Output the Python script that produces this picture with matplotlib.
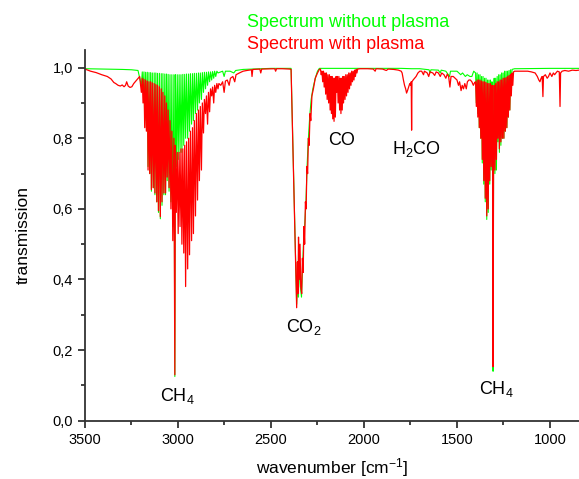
import numpy as np
import matplotlib
matplotlib.use("Agg")
import matplotlib.pyplot as plt
from matplotlib.ticker import MultipleLocator, FuncFormatter

plt.rcParams["font.family"] = ["Liberation Sans", "DejaVu Sans"]
plt.rcParams["mathtext.fontset"] = "custom"
plt.rcParams["mathtext.rm"] = "Liberation Sans"
plt.rcParams["mathtext.default"] = "regular"

# (wavenumber, transmission), band by band

# --- spectrum with plasma (red) ---
red_start = [(3500, 0.996), (3470, 0.99), (3440, 0.986), (3410, 0.98), (3380, 0.975),
             (3360, 0.968), (3345, 0.958), (3335, 0.955), (3322, 0.95), (3310, 0.948),
             (3300, 0.951), (3290, 0.946), (3282, 0.95), (3276, 0.96), (3268, 0.948),
             (3258, 0.944), (3248, 0.946), (3238, 0.955), (3222, 0.965), (3206, 0.975)]

red_ch4_r = [(3197, 0.93), (3192, 0.97), (3188, 0.9), (3183, 0.967), (3179, 0.83),
             (3174, 0.965), (3170, 0.82), (3165, 0.962), (3161, 0.71), (3156, 0.96),
             (3152, 0.7), (3147, 0.96), (3143, 0.655), (3138, 0.957), (3133, 0.66),
             (3128, 0.955), (3124, 0.645), (3119, 0.952), (3114, 0.62), (3110, 0.95),
             (3105, 0.595), (3100, 0.946), (3095, 0.578), (3090, 0.94), (3086, 0.62),
             (3081, 0.93), (3076, 0.645), (3071, 0.92), (3067, 0.645), (3062, 0.9),
             (3058, 0.69), (3053, 0.88), (3048, 0.66), (3043, 0.85), (3038, 0.6),
             (3033, 0.82), (3028, 0.51), (3022, 0.8)]

red_ch4_q = [(3017, 0.13), (3014, 0.78)]

red_ch4_p = [(3009, 0.59), (3004, 0.76), (2999, 0.53), (2994, 0.76), (2989, 0.55),
             (2984, 0.77), (2979, 0.5), (2974, 0.77), (2969, 0.475), (2964, 0.78),
             (2959, 0.38), (2954, 0.79), (2948, 0.43), (2943, 0.8), (2938, 0.47),
             (2933, 0.82), (2927, 0.51), (2922, 0.83), (2917, 0.53), (2912, 0.85),
             (2906, 0.58), (2901, 0.87), (2895, 0.625), (2890, 0.88), (2885, 0.68),
             (2880, 0.89), (2874, 0.71), (2869, 0.9), (2863, 0.815), (2858, 0.91),
             (2852, 0.87), (2847, 0.92), (2841, 0.84), (2836, 0.93), (2830, 0.875),
             (2825, 0.94), (2819, 0.92), (2814, 0.945), (2808, 0.9), (2803, 0.95),
             (2797, 0.93), (2791, 0.955), (2785, 0.94)]

red_mid = [(2780, 0.955), (2770, 0.95), (2760, 0.96), (2752, 0.93), (2745, 0.962),
           (2735, 0.965), (2725, 0.95), (2718, 0.97), (2705, 0.975), (2695, 0.96),
           (2688, 0.98), (2670, 0.985), (2650, 0.99), (2630, 0.992), (2605, 0.994),
           (2602, 0.975), (2598, 0.995), (2560, 0.996), (2555, 0.985), (2550, 0.996),
           (2480, 0.997), (2475, 0.99), (2470, 0.997), (2440, 0.997), (2400, 0.996)]

red_co2 = [(2392, 0.995), (2362, 0.32), (2358, 0.45), (2355, 0.36), (2352, 0.52),
           (2348, 0.4), (2344, 0.5), (2340, 0.38), (2335, 0.36), (2331, 0.46),
           (2327, 0.42), (2323, 0.55), (2319, 0.5), (2315, 0.62), (2311, 0.6),
           (2307, 0.72), (2303, 0.7), (2299, 0.8), (2295, 0.78), (2290, 0.87),
           (2286, 0.85), (2280, 0.92), (2272, 0.94), (2262, 0.97), (2250, 0.985),
           (2240, 0.995)]

red_co = [(2234, 0.996), (2230, 0.98), (2226, 0.99), (2222, 0.96), (2218, 0.99),
          (2214, 0.945), (2210, 0.985), (2206, 0.925), (2202, 0.985), (2198, 0.91),
          (2194, 0.98), (2190, 0.9), (2186, 0.98), (2182, 0.88), (2179, 0.975),
          (2175, 0.87), (2172, 0.975), (2168, 0.855), (2165, 0.97), (2161, 0.848),
          (2158, 0.97), (2154, 0.86), (2150, 0.975), (2147, 0.93), (2143, 0.975),
          (2139, 0.9), (2135, 0.975), (2131, 0.88), (2128, 0.97), (2124, 0.87),
          (2120, 0.97), (2117, 0.88), (2113, 0.975), (2110, 0.9), (2106, 0.975),
          (2102, 0.91), (2098, 0.98), (2094, 0.92), (2090, 0.98), (2086, 0.93),
          (2082, 0.985), (2078, 0.94), (2074, 0.985), (2070, 0.95), (2066, 0.99),
          (2062, 0.96), (2058, 0.99), (2054, 0.965), (2050, 0.993), (2046, 0.975),
          (2042, 0.995), (2038, 0.985), (2034, 0.996)]

red_h2co = [(2020, 0.997), (1980, 0.997), (1950, 0.996), (1940, 0.99), (1935, 0.997),
            (1900, 0.996), (1880, 0.992), (1870, 0.996), (1840, 0.995), (1815, 0.993),
            (1800, 0.99), (1795, 0.985), (1788, 0.965), (1782, 0.95), (1776, 0.94),
            (1771, 0.928), (1766, 0.935), (1760, 0.945), (1754, 0.955), (1749, 0.95),
            (1746, 0.96), (1744, 0.823), (1742, 0.96), (1736, 0.965), (1728, 0.97),
            (1720, 0.975), (1710, 0.985), (1700, 0.99)]

red_1700 = [(1690, 0.99), (1680, 0.98), (1675, 0.99), (1660, 0.985), (1652, 0.975),
            (1645, 0.988), (1630, 0.985), (1620, 0.978), (1612, 0.988), (1600, 0.985),
            (1590, 0.975), (1582, 0.985), (1570, 0.98), (1560, 0.97), (1552, 0.982),
            (1545, 0.975), (1538, 0.945), (1532, 0.975), (1520, 0.975), (1510, 0.97),
            (1500, 0.965), (1492, 0.95), (1486, 0.96), (1478, 0.935), (1472, 0.95),
            (1465, 0.94), (1458, 0.955), (1450, 0.94), (1444, 0.96), (1436, 0.965),
            (1428, 0.965), (1420, 0.96), (1412, 0.95), (1405, 0.958)]

red_ch4_v4 = [(1400, 0.96), (1396, 0.89), (1392, 0.965), (1388, 0.86), (1384, 0.965),
              (1380, 0.83), (1376, 0.965), (1372, 0.8), (1368, 0.962), (1364, 0.74),
              (1360, 0.96), (1356, 0.68), (1352, 0.96), (1348, 0.63), (1344, 0.958),
              (1340, 0.58), (1336, 0.955), (1332, 0.6), (1328, 0.955), (1324, 0.68),
              (1320, 0.955), (1316, 0.72), (1312, 0.95), (1309, 0.8), (1306, 0.153),
              (1303, 0.82), (1300, 0.95), (1296, 0.71), (1292, 0.955), (1288, 0.74),
              (1284, 0.96), (1280, 0.8), (1276, 0.96), (1272, 0.77), (1268, 0.965),
              (1264, 0.79), (1260, 0.965), (1256, 0.8), (1252, 0.97), (1248, 0.8),
              (1244, 0.97), (1240, 0.82), (1236, 0.972), (1232, 0.83), (1228, 0.975),
              (1224, 0.86), (1220, 0.978), (1216, 0.88), (1212, 0.98), (1208, 0.92),
              (1204, 0.985), (1200, 0.95), (1196, 0.988), (1190, 0.99)]

red_end = [(1180, 0.99), (1150, 0.99), (1120, 0.99), (1100, 0.988), (1080, 0.985),
           (1068, 0.975), (1060, 0.965), (1054, 0.96), (1048, 0.97), (1042, 0.975),
           (1038, 0.918), (1035, 0.975), (1025, 0.98), (1015, 0.97), (1008, 0.975),
           (1000, 0.985), (990, 0.975), (982, 0.985), (975, 0.98), (968, 0.985),
           (960, 0.99), (950, 0.988), (946, 0.89), (943, 0.985), (935, 0.99),
           (920, 0.992), (900, 0.99), (880, 0.993), (860, 0.992), (844, 0.993)]

# --- spectrum without plasma (green) ---
green_start = [(3500, 0.997), (3400, 0.996), (3300, 0.995), (3250, 0.994), (3215, 0.992)]

green_ch4_r = [(3197, 0.95), (3192, 0.988), (3188, 0.93), (3183, 0.988), (3179, 0.85),
               (3174, 0.987), (3170, 0.83), (3165, 0.987), (3161, 0.72), (3156, 0.986),
               (3152, 0.7), (3147, 0.986), (3143, 0.65), (3138, 0.985), (3133, 0.66),
               (3128, 0.985), (3124, 0.64), (3119, 0.985), (3114, 0.62), (3110, 0.984),
               (3105, 0.59), (3100, 0.984), (3095, 0.572), (3090, 0.983), (3086, 0.61),
               (3081, 0.983), (3076, 0.64), (3071, 0.982), (3067, 0.64), (3062, 0.982),
               (3058, 0.68), (3053, 0.981), (3048, 0.65), (3043, 0.98), (3038, 0.62),
               (3033, 0.98), (3028, 0.55), (3022, 0.98)]

green_ch4_q = [(3017, 0.125), (3014, 0.98)]

green_ch4_p = [(3009, 0.72), (3004, 0.98), (2999, 0.74), (2994, 0.98), (2989, 0.76),
               (2984, 0.98), (2979, 0.76), (2974, 0.981), (2969, 0.78), (2964, 0.981),
               (2959, 0.8), (2954, 0.982), (2948, 0.8), (2943, 0.982), (2938, 0.82),
               (2933, 0.983), (2927, 0.84), (2922, 0.983), (2917, 0.85), (2912, 0.984),
               (2906, 0.87), (2901, 0.984), (2895, 0.88), (2890, 0.985), (2885, 0.9),
               (2880, 0.985), (2874, 0.91), (2869, 0.986), (2863, 0.93), (2858, 0.987),
               (2852, 0.94), (2847, 0.987), (2841, 0.95), (2836, 0.988), (2830, 0.96),
               (2825, 0.988), (2819, 0.965), (2814, 0.989), (2808, 0.97), (2803, 0.99),
               (2797, 0.975), (2791, 0.99)]

green_mid = [(2785, 0.985), (2760, 0.99), (2752, 0.975), (2745, 0.99), (2720, 0.99),
             (2700, 0.985), (2690, 0.992), (2650, 0.995), (2600, 0.996), (2500, 0.998),
             (2400, 0.998)]

green_co2 = [(2392, 0.998), (2362, 0.33), (2357, 0.4), (2353, 0.35), (2348, 0.45),
             (2342, 0.38), (2336, 0.35), (2330, 0.44), (2324, 0.52), (2318, 0.56),
             (2312, 0.62), (2306, 0.72), (2300, 0.79), (2292, 0.86), (2284, 0.91),
             (2275, 0.94), (2262, 0.97), (2250, 0.99), (2240, 0.998)]

green_1700 = [(2230, 0.998), (2100, 0.998), (2000, 0.998), (1800, 0.998), (1745, 0.997),
              (1700, 0.997), (1650, 0.994), (1645, 0.985), (1640, 0.994), (1600, 0.993),
              (1590, 0.985), (1585, 0.993), (1560, 0.99), (1540, 0.975), (1535, 0.99),
              (1500, 0.99), (1480, 0.98), (1470, 0.985), (1455, 0.975), (1445, 0.98),
              (1430, 0.975), (1420, 0.975), (1410, 0.99)]

green_ch4_v4 = [(1400, 0.985), (1396, 0.9), (1392, 0.985), (1388, 0.87), (1384, 0.98),
                (1380, 0.83), (1376, 0.98), (1372, 0.8), (1368, 0.975), (1364, 0.73),
                (1360, 0.975), (1356, 0.67), (1352, 0.97), (1348, 0.62), (1344, 0.97),
                (1340, 0.57), (1336, 0.965), (1332, 0.59), (1328, 0.965), (1324, 0.67),
                (1320, 0.965), (1316, 0.71), (1312, 0.96), (1309, 0.79), (1306, 0.14),
                (1303, 0.8), (1300, 0.97), (1296, 0.7), (1292, 0.97), (1288, 0.71),
                (1284, 0.975), (1280, 0.79), (1276, 0.98), (1272, 0.76), (1268, 0.98),
                (1264, 0.78), (1260, 0.985), (1256, 0.8), (1252, 0.985), (1248, 0.8),
                (1244, 0.99), (1240, 0.82), (1236, 0.99), (1232, 0.83), (1228, 0.99),
                (1224, 0.86), (1220, 0.992), (1216, 0.88), (1212, 0.994), (1208, 0.93),
                (1204, 0.995), (1190, 0.997)]

green_end = [(1180, 0.997), (1000, 0.998), (844, 0.998)]

red = np.array(red_start + red_ch4_r + red_ch4_q + red_ch4_p + red_mid + red_co2
               + red_co + red_h2co + red_1700 + red_ch4_v4 + red_end)
green = np.array(green_start + green_ch4_r + green_ch4_q + green_ch4_p + green_mid
                 + green_co2 + green_1700 + green_ch4_v4 + green_end)

# band labels: (text, wavenumber, transmission)
labels = [("CH$_4$", 3097, 0.07), ("CO$_2$", 2419, 0.265), ("CO", 2192, 0.795),
          ("H$_2$CO", 1851, 0.77), ("CH$_4$", 1382, 0.09)]

fig = plt.figure(figsize=(5.79, 4.79), dpi=100)
ax = fig.add_axes([0.1468, 0.1217, 0.8532, 0.7739])

ax.plot(green[:, 0], green[:, 1], color="#00ff00", lw=0.8)
ax.plot(red[:, 0], red[:, 1], color="#ff0000", lw=0.9)

ax.set_xlim(3500, 844)
ax.set_ylim(0, 1.05)

ax.xaxis.set_major_locator(MultipleLocator(500))
ax.xaxis.set_minor_locator(MultipleLocator(250))
ax.yaxis.set_major_locator(MultipleLocator(0.2))
ax.yaxis.set_minor_locator(MultipleLocator(0.1))
ax.yaxis.set_major_formatter(FuncFormatter(lambda v, p: f"{v:.1f}".replace(".", ",")))

for side in ["top", "right"]:
    ax.spines[side].set_visible(False)
for side in ["left", "bottom"]:
    ax.spines[side].set_linewidth(1.3)
    ax.spines[side].set_color("#333333")
ax.tick_params(which="major", direction="out", length=5, width=1.3, color="#333333",
               labelsize=10.5)
ax.tick_params(which="minor", direction="out", length=3, width=1.3, color="#333333")

ax.set_xlabel("wavenumber [cm$^{-1}$]", fontsize=12.5, labelpad=7)
ax.set_ylabel("transmission", fontsize=12.5, labelpad=16)

for txt, x, y in labels:
    ax.text(x, y, txt, fontsize=13, ha="left", va="center")

fig.text(0.426, 0.952, "Spectrum without plasma", color="#00ff00", fontsize=13, va="center")
fig.text(0.426, 0.908, "Spectrum with plasma", color="#ff0000", fontsize=13, va="center")

fig.savefig("out.png", dpi=100)
